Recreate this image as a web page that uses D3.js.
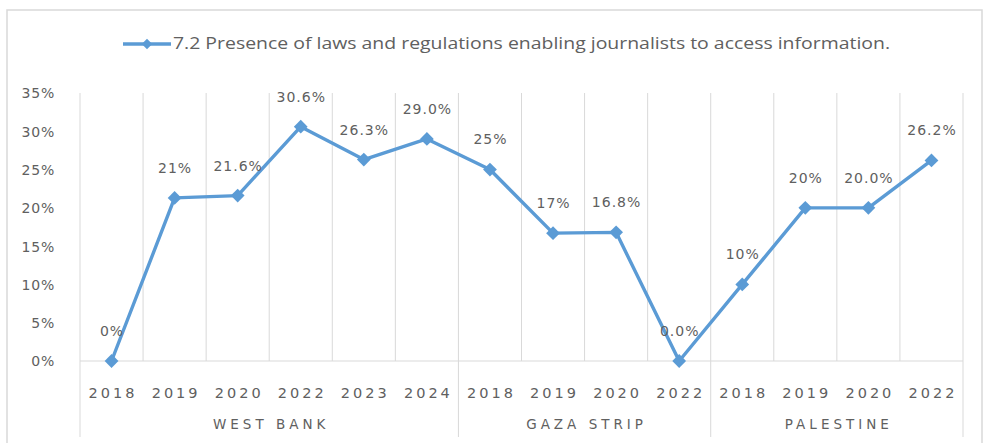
<!DOCTYPE html>
<html><head><meta charset="utf-8">
<script src="https://cdn.jsdelivr.net/npm/d3@7"></script>
<style>body{margin:0;background:#fff}svg{display:block}</style>
</head><body><svg id="c" width="983" height="443"></svg>
<script>
const groups = ["WEST BANK", "GAZA STRIP", "PALESTINE"];
const years = [["2018","2019","2020","2022","2023","2024"],["2018","2019","2020","2022"],["2018","2019","2020","2022"]];
const values = [0, 21.3, 21.6, 30.6, 26.3, 29.0, 25.0, 16.7, 16.8, 0, 10.0, 20.0, 20.0, 26.2];
const valueLabels = ["0%","21%","21.6%","30.6%","26.3%","29.0%","25%","17%","16.8%","0.0%","10%","20%","20.0%","26.2%"];
const yTicks = [0,5,10,15,20,25,30,35];
const seriesName = "7.2 Presence of laws and regulations enabling journalists to access information.";

const svg = d3.select("#c");
const color = "#5B9BD5", grid = "#D9D9D9", txt = "#606060";
const L = 80, R = 963, T = 93, B = 361, BOT = 437;
const FONT = "'DejaVu Sans', sans-serif";
const cats = [];
years.forEach((ys,g)=>ys.forEach(y=>cats.push({g, y, key:g+"-"+y})));
const x = d3.scaleBand().domain(cats.map(c=>c.key)).range([L,R]).padding(0);
const yS = d3.scaleLinear().domain([0,35]).range([B,T]);

svg.append("rect").attr("x",7).attr("y",10).attr("width",975).attr("height",460)
  .attr("fill","#fff").attr("stroke","#D9D9D9").attr("stroke-width",1.5);

// vertical gridlines at category boundaries
const g0 = svg.append("g");
cats.forEach((c,i)=>{
  const xb = x(c.key);
  const isGroupStart = i===0 || cats[i-1].g!==c.g;
  g0.append("line").attr("x1",xb).attr("x2",xb).attr("y1",T).attr("y2",isGroupStart?BOT:B)
    .attr("stroke",grid).attr("stroke-width",1);
});
g0.append("line").attr("x1",R).attr("x2",R).attr("y1",T).attr("y2",BOT).attr("stroke",grid);
g0.append("line").attr("x1",L).attr("x2",R).attr("y1",B).attr("y2",B).attr("stroke",grid);

// y axis labels
const yAxis = d3.axisLeft(yS).tickValues(yTicks).tickSize(0).tickFormat(d=>d+"%");
const ya = svg.append("g").attr("transform",`translate(${L-22},0)`).call(yAxis);
ya.select(".domain").remove();
ya.selectAll("text").attr("font-family",FONT).attr("font-size",14).attr("letter-spacing","0.8px").attr("fill",txt).attr("dy","0.35em");

// x labels
const xa = d3.axisBottom(x).tickSize(0).tickFormat(k=>cats.find(c=>c.key===k).y);
const xg = svg.append("g").attr("transform",`translate(0,${B+29})`).call(xa);
xg.select(".domain").remove();
xg.selectAll("text").attr("font-family",FONT).attr("font-size",14.5).attr("fill",txt)
  .attr("letter-spacing","3px").attr("dx","1.5px").attr("dy","0.35em");

// group labels
groups.forEach((gname,gi)=>{
  const gc = cats.filter(c=>c.g===gi);
  const x0 = x(gc[0].key), x1 = x(gc[gc.length-1].key)+x.bandwidth();
  svg.append("text").attr("x",(x0+x1)/2+2).attr("y",424).attr("text-anchor","middle")
    .attr("dy","0.35em").attr("font-family",FONT).attr("font-size",13.5)
    .attr("letter-spacing","4px").attr("fill",txt).text(gname);
});

// line
const pts = cats.map((c,i)=>({x:x(c.key)+x.bandwidth()/2, y:yS(values[i]), lab:valueLabels[i]}));
svg.append("path").datum(pts).attr("fill","none").attr("stroke",color).attr("stroke-width",3.4)
  .attr("stroke-linejoin","round").attr("d",d3.line().x(d=>d.x).y(d=>d.y));
const diamond = d3.symbol().type(d3.symbolSquare).size(95);
svg.selectAll(".m").data(pts).join("path").attr("fill",color)
  .attr("transform",d=>`translate(${d.x},${d.y}) rotate(45)`).attr("d",diamond);
svg.selectAll(".lbl").data(pts).join("text").attr("x",d=>d.x+0.5).attr("y",d=>d.y-30)
  .attr("text-anchor","middle").attr("dy","0.35em").attr("font-family",FONT)
  .attr("font-size",14).attr("letter-spacing","1px").attr("fill",txt).text(d=>d.lab);

// legend
svg.append("line").attr("x1",123).attr("x2",171).attr("y1",44).attr("y2",44).attr("stroke",color).attr("stroke-width",3.4);
svg.append("path").attr("transform","translate(147,44) rotate(45)").attr("d",d3.symbol().type(d3.symbolSquare).size(55)).attr("fill",color);
svg.append("text").attr("x",173).attr("y",44).attr("dy","0.35em").attr("font-family","'Liberation Sans Narrow','Open Sans', sans-serif")
  .attr("font-size",15.5).attr("fill",txt).attr("textLength",717).attr("lengthAdjust","spacingAndGlyphs").text(seriesName);
</script></body></html>
